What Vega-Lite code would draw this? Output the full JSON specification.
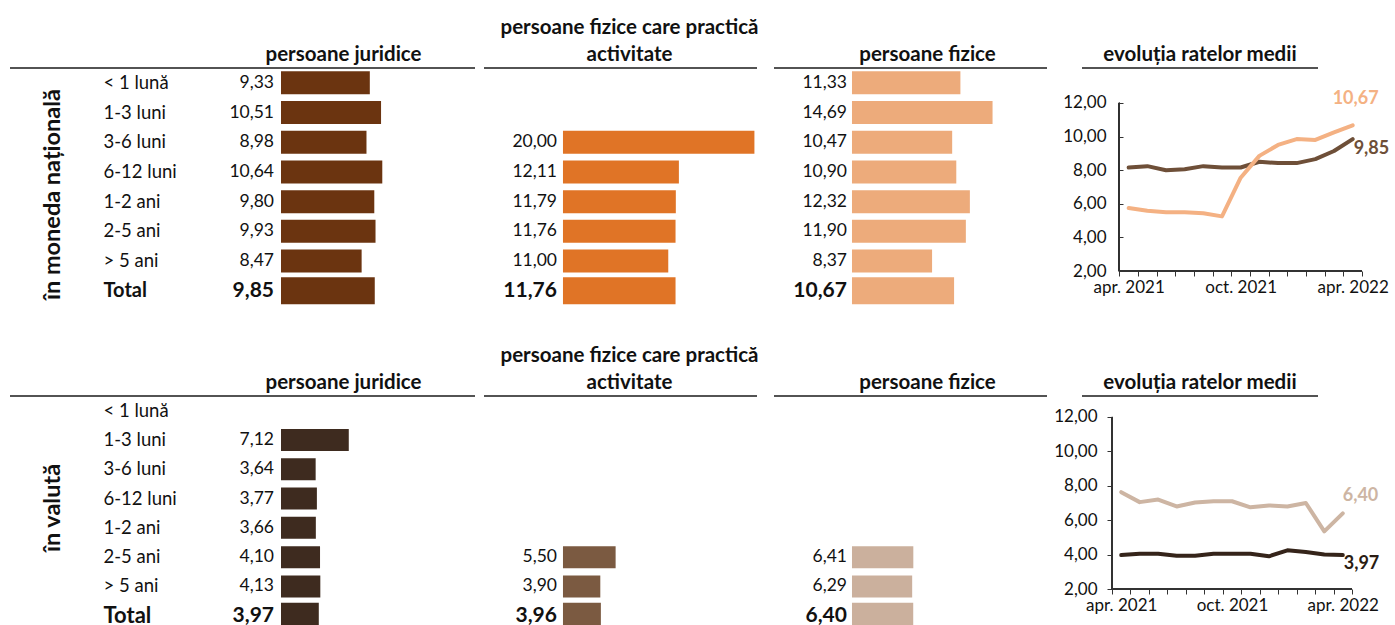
{
  "$schema": "https://vega.github.io/schema/vega-lite/v6.json",
  "autosize": {"type": "pad"},
  "padding": {"left": 9, "top": 17, "right": 0, "bottom": 0},
  "background": "white",
  "bounds": "flush",
  "columns": 7,
  "spacing": 0,
  "align": "each",
  "config": {
    "view": {"stroke": null},
    "font": "Lato",
    "locale": {"number": {"decimal": ",", "thousands": ".", "grouping": [3], "currency": ["", ""]}},
    "axis": {"labelFont": "Lato", "titleFont": "Lato", "labelColor": "#111111", "titleColor": "#111111"},
    "title": {"font": "Lato", "fontWeight": "bold", "fontSize": 20.5, "color": "#111111"},
    "text": {"font": "Lato", "color": "#111111"}
  },
  "datasets": {
    "jTop": [
      {"t": "< 1 lună", "v": 9.33}, {"t": "1-3 luni", "v": 10.51}, {"t": "3-6 luni", "v": 8.98}, {"t": "6-12 luni", "v": 10.64},
      {"t": "1-2 ani", "v": 9.80}, {"t": "2-5 ani", "v": 9.93}, {"t": "> 5 ani", "v": 8.47}, {"t": "Total", "v": 9.85}
    ],
    "pfaTop": [
      {"t": "3-6 luni", "v": 20.00}, {"t": "6-12 luni", "v": 12.11}, {"t": "1-2 ani", "v": 11.79},
      {"t": "2-5 ani", "v": 11.76}, {"t": "> 5 ani", "v": 11.00}, {"t": "Total", "v": 11.76}
    ],
    "pfTop": [
      {"t": "< 1 lună", "v": 11.33}, {"t": "1-3 luni", "v": 14.69}, {"t": "3-6 luni", "v": 10.47}, {"t": "6-12 luni", "v": 10.90},
      {"t": "1-2 ani", "v": 12.32}, {"t": "2-5 ani", "v": 11.90}, {"t": "> 5 ani", "v": 8.37}, {"t": "Total", "v": 10.67}
    ],
    "jBot": [
      {"t": "1-3 luni", "v": 7.12}, {"t": "3-6 luni", "v": 3.64}, {"t": "6-12 luni", "v": 3.77},
      {"t": "1-2 ani", "v": 3.66}, {"t": "2-5 ani", "v": 4.10}, {"t": "> 5 ani", "v": 4.13}, {"t": "Total", "v": 3.97}
    ],
    "pfaBot": [
      {"t": "2-5 ani", "v": 5.50}, {"t": "> 5 ani", "v": 3.90}, {"t": "Total", "v": 3.96}
    ],
    "pfBot": [
      {"t": "2-5 ani", "v": 6.41}, {"t": "> 5 ani", "v": 6.29}, {"t": "Total", "v": 6.40}
    ],
    "lcTop": [
      {"m": "apr. 2021", "s": "j", "v": 8.16}, {"m": "mai 2021", "s": "j", "v": 8.24}, {"m": "iun. 2021", "s": "j", "v": 8.0},
      {"m": "iul. 2021", "s": "j", "v": 8.06}, {"m": "aug. 2021", "s": "j", "v": 8.24}, {"m": "sept. 2021", "s": "j", "v": 8.16},
      {"m": "oct. 2021", "s": "j", "v": 8.16}, {"m": "nov. 2021", "s": "j", "v": 8.5}, {"m": "dec. 2021", "s": "j", "v": 8.42},
      {"m": "ian. 2022", "s": "j", "v": 8.42}, {"m": "feb. 2022", "s": "j", "v": 8.66}, {"m": "mar. 2022", "s": "j", "v": 9.14},
      {"m": "apr. 2022", "s": "j", "v": 9.85},
      {"m": "apr. 2021", "s": "f", "v": 5.75}, {"m": "mai 2021", "s": "f", "v": 5.58}, {"m": "iun. 2021", "s": "f", "v": 5.5},
      {"m": "iul. 2021", "s": "f", "v": 5.5}, {"m": "aug. 2021", "s": "f", "v": 5.44}, {"m": "sept. 2021", "s": "f", "v": 5.25},
      {"m": "oct. 2021", "s": "f", "v": 7.55}, {"m": "nov. 2021", "s": "f", "v": 8.85}, {"m": "dec. 2021", "s": "f", "v": 9.5},
      {"m": "ian. 2022", "s": "f", "v": 9.85}, {"m": "feb. 2022", "s": "f", "v": 9.8}, {"m": "mar. 2022", "s": "f", "v": 10.25},
      {"m": "apr. 2022", "s": "f", "v": 10.67}
    ],
    "lcBot": [
      {"m": "apr. 2021", "s": "j", "v": 3.97}, {"m": "mai 2021", "s": "j", "v": 4.05}, {"m": "iun. 2021", "s": "j", "v": 4.05},
      {"m": "iul. 2021", "s": "j", "v": 3.93}, {"m": "aug. 2021", "s": "j", "v": 3.93}, {"m": "sept. 2021", "s": "j", "v": 4.05},
      {"m": "oct. 2021", "s": "j", "v": 4.05}, {"m": "nov. 2021", "s": "j", "v": 4.05}, {"m": "dec. 2021", "s": "j", "v": 3.9},
      {"m": "ian. 2022", "s": "j", "v": 4.25}, {"m": "feb. 2022", "s": "j", "v": 4.15}, {"m": "mar. 2022", "s": "j", "v": 4.0},
      {"m": "apr. 2022", "s": "j", "v": 3.97},
      {"m": "apr. 2021", "s": "f", "v": 7.63}, {"m": "mai 2021", "s": "f", "v": 7.05}, {"m": "iun. 2021", "s": "f", "v": 7.2},
      {"m": "iul. 2021", "s": "f", "v": 6.8}, {"m": "aug. 2021", "s": "f", "v": 7.03}, {"m": "sept. 2021", "s": "f", "v": 7.1},
      {"m": "oct. 2021", "s": "f", "v": 7.1}, {"m": "nov. 2021", "s": "f", "v": 6.75}, {"m": "dec. 2021", "s": "f", "v": 6.86},
      {"m": "ian. 2022", "s": "f", "v": 6.8}, {"m": "feb. 2022", "s": "f", "v": 7.0}, {"m": "mar. 2022", "s": "f", "v": 5.35},
      {"m": "apr. 2022", "s": "f", "v": 6.4}
    ]
  },
  "concat": [
    {"width": 465, "height": 1, "data": {"values": [{}]},
     "title": {"text": "persoane juridice", "anchor": "middle", "frame": "group", "dx": 101, "dy": 22, "offset": 4, "baseline": "bottom"},
     "mark": {"type": "rule", "color": "#1a1a1a", "strokeWidth": 1.4},
     "encoding": {"y": {"datum": 0, "type": "quantitative", "scale": {"domain": [0, 1], "nice": false}, "axis": null}}},
    {"width": 9, "height": 1, "data": {"values": [{}]}, "mark": {"type": "point", "opacity": 0}, "encoding": {}},
    {"width": 273, "height": 1, "data": {"values": [{}]},
     "title": {"text": ["persoane fizice care practică", "activitate"], "anchor": "middle", "frame": "group", "dx": 9, "dy": 22, "offset": 4, "baseline": "bottom", "lineHeight": 27},
     "mark": {"type": "rule", "color": "#1a1a1a", "strokeWidth": 1.4},
     "encoding": {"y": {"datum": 0, "type": "quantitative", "scale": {"domain": [0, 1], "nice": false}, "axis": null}}},
    {"width": 17, "height": 1, "data": {"values": [{}]}, "mark": {"type": "point", "opacity": 0}, "encoding": {}},
    {"width": 273, "height": 1, "data": {"values": [{}]},
     "title": {"text": "persoane fizice", "anchor": "middle", "frame": "group", "dx": 17, "dy": 22, "offset": 4, "baseline": "bottom"},
     "mark": {"type": "rule", "color": "#1a1a1a", "strokeWidth": 1.4},
     "encoding": {"y": {"datum": 0, "type": "quantitative", "scale": {"domain": [0, 1], "nice": false}, "axis": null}}},
    {"width": 35, "height": 1, "data": {"values": [{}]}, "mark": {"type": "point", "opacity": 0}, "encoding": {}},
    {"width": 236, "height": 1, "data": {"values": [{}]},
     "title": {"text": "evoluția ratelor medii", "anchor": "middle", "frame": "group", "dx": 0, "dy": 22, "offset": 4, "baseline": "bottom"},
     "mark": {"type": "rule", "color": "#1a1a1a", "strokeWidth": 1.4},
     "encoding": {"y": {"datum": 0, "type": "quantitative", "scale": {"domain": [0, 1], "nice": false}, "axis": null}}},

    {"width": 465, "height": 237.6, "data": {"name": "jTop"},
     "encoding": {"y": {"field": "t", "type": "nominal", "sort": null,
       "scale": {"domain": ["< 1 lună", "1-3 luni", "3-6 luni", "6-12 luni", "1-2 ani", "2-5 ani", "> 5 ani", "Total"], "paddingInner": 0, "paddingOuter": 0},
       "axis": {"orient": "left", "domain": false, "ticks": false, "tickSize": 0, "grid": false, "labelAlign": "left", "labelBaseline": "middle", "labelPadding": -93,
         "labelFontSize": {"condition": {"test": "datum.value === 'Total'", "value": 20}, "value": 18.5},
         "labelFontWeight": {"condition": {"test": "datum.value === 'Total'", "value": "bold"}, "value": "normal"},
         "title": "în moneda națională", "titleFontSize": 23.5, "titleFontWeight": "bold", "titleAngle": 270, "titleX": 42, "titleY": 126, "titleAlign": "center", "titleBaseline": "middle"}}},
     "layer": [
       {"mark": {"type": "bar", "color": "#6B3410"},
        "encoding": {"x": {"field": "v", "type": "quantitative", "scale": {"domain": [-28.47, 20.38], "nice": false, "zero": false}, "axis": null},
          "size": {"condition": {"test": "datum.t === 'Total'", "value": 27}, "value": 23}}},
       {"transform": [{"filter": "datum.t !== 'Total'"}],
        "mark": {"type": "text", "align": "right", "baseline": "middle", "dx": -7, "fontSize": 17.5},
        "encoding": {"x": {"datum": 0, "type": "quantitative"}, "text": {"field": "v", "type": "quantitative", "format": ".2f"}}},
       {"transform": [{"filter": "datum.t === 'Total'"}],
        "mark": {"type": "text", "align": "right", "baseline": "middle", "dx": -7, "fontSize": 21, "fontWeight": "bold"},
        "encoding": {"x": {"datum": 0, "type": "quantitative"}, "text": {"field": "v", "type": "quantitative", "format": ".2f"}}}
     ]},
    {"width": 9, "height": 327, "data": {"values": [{}]}, "mark": {"type": "point", "opacity": 0}, "encoding": {}},
    {"width": 273, "height": 237.6, "data": {"name": "pfaTop"},
     "encoding": {"y": {"field": "t", "type": "nominal", "sort": null,
       "scale": {"domain": ["< 1 lună", "1-3 luni", "3-6 luni", "6-12 luni", "1-2 ani", "2-5 ani", "> 5 ani", "Total"], "paddingInner": 0, "paddingOuter": 0}, "axis": null}},
     "layer": [
       {"mark": {"type": "bar", "color": "#E07426"},
        "encoding": {"x": {"field": "v", "type": "quantitative", "scale": {"domain": [-8.25, 20.27], "nice": false, "zero": false}, "axis": null},
          "size": {"condition": {"test": "datum.t === 'Total'", "value": 27}, "value": 23}}},
       {"transform": [{"filter": "datum.t !== 'Total'"}],
        "mark": {"type": "text", "align": "right", "baseline": "middle", "dx": -6, "fontSize": 17.5},
        "encoding": {"x": {"datum": 0, "type": "quantitative"}, "text": {"field": "v", "type": "quantitative", "format": ".2f"}}},
       {"transform": [{"filter": "datum.t === 'Total'"}],
        "mark": {"type": "text", "align": "right", "baseline": "middle", "dx": -6, "fontSize": 21, "fontWeight": "bold"},
        "encoding": {"x": {"datum": 0, "type": "quantitative"}, "text": {"field": "v", "type": "quantitative", "format": ".2f"}}}
     ]},
    {"width": 17, "height": 1, "data": {"values": [{}]}, "mark": {"type": "point", "opacity": 0}, "encoding": {}},
    {"width": 273, "height": 237.6, "data": {"name": "pfTop"},
     "encoding": {"y": {"field": "t", "type": "nominal", "sort": null,
       "scale": {"domain": ["< 1 lună", "1-3 luni", "3-6 luni", "6-12 luni", "1-2 ani", "2-5 ani", "> 5 ani", "Total"], "paddingInner": 0, "paddingOuter": 0}, "axis": null}},
     "layer": [
       {"mark": {"type": "bar", "color": "#EDAB7B"},
        "encoding": {"x": {"field": "v", "type": "quantitative", "scale": {"domain": [-8.15, 20.38], "nice": false, "zero": false}, "axis": null},
          "size": {"condition": {"test": "datum.t === 'Total'", "value": 27}, "value": 23}}},
       {"transform": [{"filter": "datum.t !== 'Total'"}],
        "mark": {"type": "text", "align": "right", "baseline": "middle", "dx": -5, "fontSize": 17.5},
        "encoding": {"x": {"datum": 0, "type": "quantitative"}, "text": {"field": "v", "type": "quantitative", "format": ".2f"}}},
       {"transform": [{"filter": "datum.t === 'Total'"}],
        "mark": {"type": "text", "align": "right", "baseline": "middle", "dx": -5, "fontSize": 21, "fontWeight": "bold"},
        "encoding": {"x": {"datum": 0, "type": "quantitative"}, "text": {"field": "v", "type": "quantitative", "format": ".2f"}}}
     ]},
    {"width": 35, "height": 1, "data": {"values": [{}]}, "mark": {"type": "point", "opacity": 0}, "encoding": {}},
    {"width": 280, "height": 203, "data": {"name": "lcTop"},
     "encoding": {
       "x": {"field": "m", "type": "ordinal", "sort": null,
         "scale": {"type": "band", "domain": ["apr. 2021","mai 2021","iun. 2021","iul. 2021","aug. 2021","sept. 2021","oct. 2021","nov. 2021","dec. 2021","ian. 2022","feb. 2022","mar. 2022","apr. 2022"], "paddingInner": 0, "paddingOuter": 1.115, "align": 1},
         "axis": {"orient": "bottom", "title": null, "domain": false, "ticks": true, "tickBand": "extent", "tickSize": 5, "tickColor": "#333333",
           "labelAngle": 0, "labelOverlap": false, "labelFontSize": 17, "labelPadding": 3,
           "labelExpr": "(datum.value == 'apr. 2021' || datum.value == 'oct. 2021' || datum.value == 'apr. 2022') ? datum.value : ''"}},
       "y": {"field": "v", "type": "quantitative", "scale": {"domain": [2, 14.08], "nice": false, "zero": false},
         "axis": {"title": null, "offset": -41, "values": [2, 4, 6, 8, 10, 12], "format": ".2f", "domain": false, "ticks": true, "tickSize": 5, "tickColor": "#333333", "grid": false, "labelFontSize": 17, "labelPadding": 12}}
     },
     "layer": [
       {"transform": [{"filter": "datum.s === 'j'"}],
        "mark": {"type": "line", "color": "#6E4F38", "strokeWidth": 4, "strokeJoin": "round", "strokeCap": "round"}},
       {"transform": [{"filter": "datum.s === 'f'"}],
        "mark": {"type": "line", "color": "#F4B183", "strokeWidth": 4, "strokeJoin": "round", "strokeCap": "round"}},
       {"transform": [{"filter": "datum.s === 'f' && datum.m === 'apr. 2022'"}],
        "mark": {"type": "text", "color": "#F4B183", "fontWeight": "bold", "fontSize": 18, "align": "center", "baseline": "middle", "dx": 3, "dy": -26},
        "encoding": {"text": {"field": "v", "type": "quantitative", "format": ".2f"}}},
       {"transform": [{"filter": "datum.s === 'j' && datum.m === 'apr. 2022'"}],
        "mark": {"type": "text", "color": "#6E4F38", "fontWeight": "bold", "fontSize": 18, "align": "left", "baseline": "middle", "dx": 1, "dy": 10},
        "encoding": {"text": {"field": "v", "type": "quantitative", "format": ".2f"}}},
       {"mark": {"type": "rule", "color": "#333333", "strokeWidth": 1},
        "encoding": {"x": {"datum": "apr. 2021", "type": "ordinal", "bandPosition": 0, "title": null},
          "y": {"datum": 2, "type": "quantitative", "title": null}, "y2": {"datum": 12}}},
       {"mark": {"type": "rule", "color": "#333333", "strokeWidth": 1},
        "encoding": {"x": {"datum": "apr. 2021", "type": "ordinal", "bandPosition": 0, "title": null},
          "x2": {"datum": "apr. 2022", "bandPosition": 1},
          "y": {"datum": 2, "type": "quantitative", "title": null}}}
     ]},

    {"width": 465, "height": 1, "data": {"values": [{}]},
     "title": {"text": "persoane juridice", "anchor": "middle", "frame": "group", "dx": 101, "dy": 22, "offset": 4, "baseline": "bottom"},
     "mark": {"type": "rule", "color": "#1a1a1a", "strokeWidth": 1.4},
     "encoding": {"y": {"datum": 0, "type": "quantitative", "scale": {"domain": [0, 1], "nice": false}, "axis": null}}},
    {"width": 9, "height": 1, "data": {"values": [{}]}, "mark": {"type": "point", "opacity": 0}, "encoding": {}},
    {"width": 273, "height": 1, "data": {"values": [{}]},
     "title": {"text": ["persoane fizice care practică", "activitate"], "anchor": "middle", "frame": "group", "dx": 9, "dy": 22, "offset": 4, "baseline": "bottom", "lineHeight": 27},
     "mark": {"type": "rule", "color": "#1a1a1a", "strokeWidth": 1.4},
     "encoding": {"y": {"datum": 0, "type": "quantitative", "scale": {"domain": [0, 1], "nice": false}, "axis": null}}},
    {"width": 17, "height": 1, "data": {"values": [{}]}, "mark": {"type": "point", "opacity": 0}, "encoding": {}},
    {"width": 273, "height": 1, "data": {"values": [{}]},
     "title": {"text": "persoane fizice", "anchor": "middle", "frame": "group", "dx": 17, "dy": 22, "offset": 4, "baseline": "bottom"},
     "mark": {"type": "rule", "color": "#1a1a1a", "strokeWidth": 1.4},
     "encoding": {"y": {"datum": 0, "type": "quantitative", "scale": {"domain": [0, 1], "nice": false}, "axis": null}}},
    {"width": 35, "height": 1, "data": {"values": [{}]}, "mark": {"type": "point", "opacity": 0}, "encoding": {}},
    {"width": 236, "height": 1, "data": {"values": [{}]},
     "title": {"text": "evoluția ratelor medii", "anchor": "middle", "frame": "group", "dx": 0, "dy": 22, "offset": 4, "baseline": "bottom"},
     "mark": {"type": "rule", "color": "#1a1a1a", "strokeWidth": 1.4},
     "encoding": {"y": {"datum": 0, "type": "quantitative", "scale": {"domain": [0, 1], "nice": false}, "axis": null}}},

    {"width": 465, "height": 234.4, "data": {"name": "jBot"},
     "encoding": {"y": {"field": "t", "type": "nominal", "sort": null,
       "scale": {"domain": ["< 1 lună", "1-3 luni", "3-6 luni", "6-12 luni", "1-2 ani", "2-5 ani", "> 5 ani", "Total"], "paddingInner": 0, "paddingOuter": 0},
       "axis": {"orient": "left", "domain": false, "ticks": false, "tickSize": 0, "grid": false, "labelAlign": "left", "labelBaseline": "middle", "labelPadding": -93,
         "labelFontSize": {"condition": {"test": "datum.value === 'Total'", "value": 22}, "value": 18.5},
         "labelFontWeight": {"condition": {"test": "datum.value === 'Total'", "value": "bold"}, "value": "normal"},
         "title": "în valută", "titleFontSize": 23.5, "titleFontWeight": "bold", "titleAngle": 270, "titleX": 42, "titleY": 111.5, "titleAlign": "center", "titleBaseline": "middle"}}},
     "layer": [
       {"mark": {"type": "bar", "color": "#3E2B1F"},
        "encoding": {"x": {"field": "v", "type": "quantitative", "scale": {"domain": [-28.47, 20.38], "nice": false, "zero": false}, "axis": null},
          "size": {"condition": {"test": "datum.t === 'Total'", "value": 26}, "value": 22}}},
       {"transform": [{"filter": "datum.t !== 'Total'"}],
        "mark": {"type": "text", "align": "right", "baseline": "middle", "dx": -7, "fontSize": 17.5},
        "encoding": {"x": {"datum": 0, "type": "quantitative"}, "text": {"field": "v", "type": "quantitative", "format": ".2f"}}},
       {"transform": [{"filter": "datum.t === 'Total'"}],
        "mark": {"type": "text", "align": "right", "baseline": "middle", "dx": -7, "fontSize": 21, "fontWeight": "bold"},
        "encoding": {"x": {"datum": 0, "type": "quantitative"}, "text": {"field": "v", "type": "quantitative", "format": ".2f"}}}
     ]},
    {"width": 9, "height": 1, "data": {"values": [{}]}, "mark": {"type": "point", "opacity": 0}, "encoding": {}},
    {"width": 273, "height": 234.4, "data": {"name": "pfaBot"},
     "encoding": {"y": {"field": "t", "type": "nominal", "sort": null,
       "scale": {"domain": ["< 1 lună", "1-3 luni", "3-6 luni", "6-12 luni", "1-2 ani", "2-5 ani", "> 5 ani", "Total"], "paddingInner": 0, "paddingOuter": 0}, "axis": null}},
     "layer": [
       {"mark": {"type": "bar", "color": "#7B5A41"},
        "encoding": {"x": {"field": "v", "type": "quantitative", "scale": {"domain": [-8.25, 20.27], "nice": false, "zero": false}, "axis": null},
          "size": {"condition": {"test": "datum.t === 'Total'", "value": 26}, "value": 22}}},
       {"transform": [{"filter": "datum.t !== 'Total'"}],
        "mark": {"type": "text", "align": "right", "baseline": "middle", "dx": -6, "fontSize": 17.5},
        "encoding": {"x": {"datum": 0, "type": "quantitative"}, "text": {"field": "v", "type": "quantitative", "format": ".2f"}}},
       {"transform": [{"filter": "datum.t === 'Total'"}],
        "mark": {"type": "text", "align": "right", "baseline": "middle", "dx": -6, "fontSize": 21, "fontWeight": "bold"},
        "encoding": {"x": {"datum": 0, "type": "quantitative"}, "text": {"field": "v", "type": "quantitative", "format": ".2f"}}}
     ]},
    {"width": 17, "height": 1, "data": {"values": [{}]}, "mark": {"type": "point", "opacity": 0}, "encoding": {}},
    {"width": 273, "height": 234.4, "data": {"name": "pfBot"},
     "encoding": {"y": {"field": "t", "type": "nominal", "sort": null,
       "scale": {"domain": ["< 1 lună", "1-3 luni", "3-6 luni", "6-12 luni", "1-2 ani", "2-5 ani", "> 5 ani", "Total"], "paddingInner": 0, "paddingOuter": 0}, "axis": null}},
     "layer": [
       {"mark": {"type": "bar", "color": "#CBB09D"},
        "encoding": {"x": {"field": "v", "type": "quantitative", "scale": {"domain": [-8.15, 20.38], "nice": false, "zero": false}, "axis": null},
          "size": {"condition": {"test": "datum.t === 'Total'", "value": 26}, "value": 22}}},
       {"transform": [{"filter": "datum.t !== 'Total'"}],
        "mark": {"type": "text", "align": "right", "baseline": "middle", "dx": -5, "fontSize": 17.5},
        "encoding": {"x": {"datum": 0, "type": "quantitative"}, "text": {"field": "v", "type": "quantitative", "format": ".2f"}}},
       {"transform": [{"filter": "datum.t === 'Total'"}],
        "mark": {"type": "text", "align": "right", "baseline": "middle", "dx": -5, "fontSize": 21, "fontWeight": "bold"},
        "encoding": {"x": {"datum": 0, "type": "quantitative"}, "text": {"field": "v", "type": "quantitative", "format": ".2f"}}}
     ]},
    {"width": 35, "height": 1, "data": {"values": [{}]}, "mark": {"type": "point", "opacity": 0}, "encoding": {}},
    {"width": 270, "height": 193, "data": {"name": "lcBot"},
     "encoding": {
       "x": {"field": "m", "type": "ordinal", "sort": null,
         "scale": {"type": "band", "domain": ["apr. 2021","mai 2021","iun. 2021","iul. 2021","aug. 2021","sept. 2021","oct. 2021","nov. 2021","dec. 2021","ian. 2022","feb. 2022","mar. 2022","apr. 2022"], "paddingInner": 0, "paddingOuter": 0.8125, "align": 1},
         "axis": {"orient": "bottom", "title": null, "domain": false, "ticks": true, "tickBand": "extent", "tickSize": 5, "tickColor": "#333333",
           "labelAngle": 0, "labelOverlap": false, "labelFontSize": 17, "labelPadding": 3,
           "labelExpr": "(datum.value == 'apr. 2021' || datum.value == 'oct. 2021' || datum.value == 'apr. 2022') ? datum.value : ''"}},
       "y": {"field": "v", "type": "quantitative", "scale": {"domain": [2, 13.22], "nice": false, "zero": false},
         "axis": {"title": null, "offset": -30, "values": [2, 4, 6, 8, 10, 12], "format": ".2f", "domain": false, "ticks": true, "tickSize": 5, "tickColor": "#333333", "grid": false, "labelFontSize": 17, "labelPadding": 10}}
     },
     "layer": [
       {"transform": [{"filter": "datum.s === 'f'"}],
        "mark": {"type": "line", "color": "#CDB5A3", "strokeWidth": 4, "strokeJoin": "round", "strokeCap": "round"}},
       {"transform": [{"filter": "datum.s === 'j'"}],
        "mark": {"type": "line", "color": "#35241A", "strokeWidth": 4, "strokeJoin": "round", "strokeCap": "round"}},
       {"transform": [{"filter": "datum.s === 'f' && datum.m === 'apr. 2022'"}],
        "mark": {"type": "text", "color": "#CDB5A3", "fontWeight": "bold", "fontSize": 18, "align": "left", "baseline": "middle", "dx": 0, "dy": -17},
        "encoding": {"text": {"field": "v", "type": "quantitative", "format": ".2f"}}},
       {"transform": [{"filter": "datum.s === 'j' && datum.m === 'apr. 2022'"}],
        "mark": {"type": "text", "color": "#2A1C13", "fontWeight": "bold", "fontSize": 18, "align": "left", "baseline": "middle", "dx": 1, "dy": 9},
        "encoding": {"text": {"field": "v", "type": "quantitative", "format": ".2f"}}},
       {"mark": {"type": "rule", "color": "#333333", "strokeWidth": 1},
        "encoding": {"x": {"datum": "apr. 2021", "type": "ordinal", "bandPosition": 0, "title": null},
          "y": {"datum": 2, "type": "quantitative", "title": null}, "y2": {"datum": 12}}},
       {"mark": {"type": "rule", "color": "#333333", "strokeWidth": 1},
        "encoding": {"x": {"datum": "apr. 2021", "type": "ordinal", "bandPosition": 0, "title": null},
          "x2": {"datum": "apr. 2022", "bandPosition": 1},
          "y": {"datum": 2, "type": "quantitative", "title": null}}}
     ]}
  ]
}
